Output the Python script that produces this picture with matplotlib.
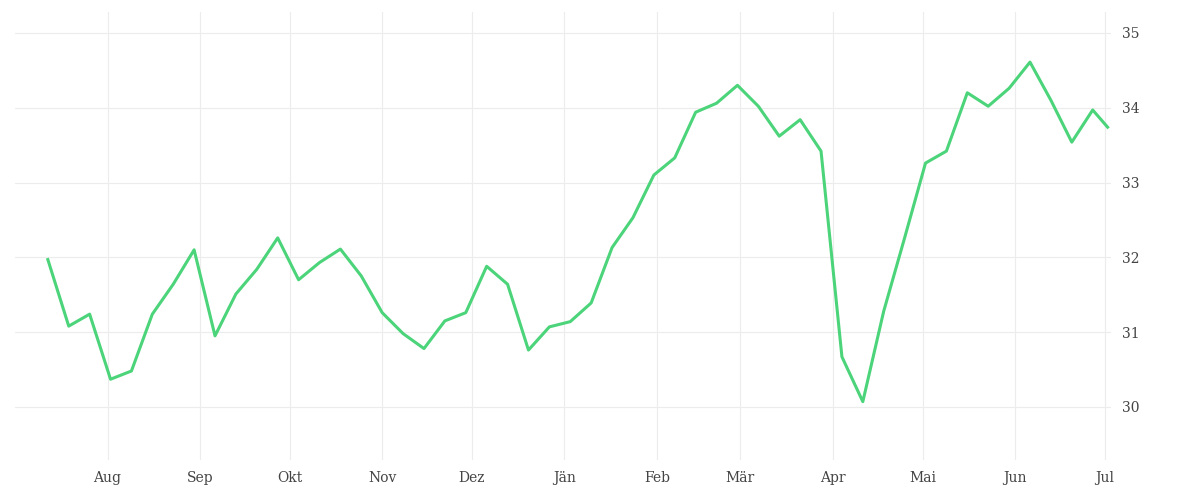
import matplotlib
matplotlib.use('Agg')
from matplotlib import pyplot as plt
import matplotlib.dates as mdates
import pandas as pd

# weekly values
values = [31.97, 31.08, 31.24, 30.37, 30.48, 31.24, 31.64, 32.10, 30.95, 31.51,
          31.84, 32.26, 31.70, 31.93, 32.11, 31.75, 31.26, 30.98, 30.78, 31.15,
          31.26, 31.88, 31.64, 30.76, 31.07, 31.14, 31.39, 32.13, 32.53, 33.10,
          33.33, 33.94, 34.06, 34.30, 34.02, 33.62, 33.84, 33.42, 30.67, 30.07,
          31.28, 32.26, 33.26, 33.42, 34.20, 34.02, 34.26, 34.61, 34.10, 33.54,
          33.97, 33.74]
dates = list(pd.date_range('2022-07-12', periods=len(values) - 1, freq='7D')) + [pd.Timestamp('2023-07-02')]
month_ticks = pd.date_range('2022-08-01', '2023-07-01', freq='MS')
month_labels = ['Aug', 'Sep', 'Okt', 'Nov', 'Dez', 'Jän', 'Feb', 'Mär', 'Apr', 'Mai', 'Jun', 'Jul']

fig = plt.figure(figsize=(12, 5), dpi=100)
ax = fig.add_axes([0.0125, 0.08, 0.913, 0.896])
ax.plot(dates, values, color='#4cd47a', linewidth=2.2)

ax.set_xlim(pd.Timestamp('2022-07-01'), pd.Timestamp('2023-07-03'))
ax.set_ylim(29.29, 35.28)
ax.set_xticks(month_ticks)
ax.set_xticklabels(month_labels)
ax.set_yticks([30, 31, 32, 33, 34, 35])
ax.yaxis.tick_right()
ax.grid(True, color='#ececec', linewidth=0.8)
for s in ax.spines.values():
    s.set_visible(False)
ax.tick_params(axis='both', length=0, labelsize=10, labelcolor='#444444', pad=8)
for lab in ax.get_xticklabels() + ax.get_yticklabels():
    lab.set_family('DejaVu Serif')

plt.savefig('out.png')
